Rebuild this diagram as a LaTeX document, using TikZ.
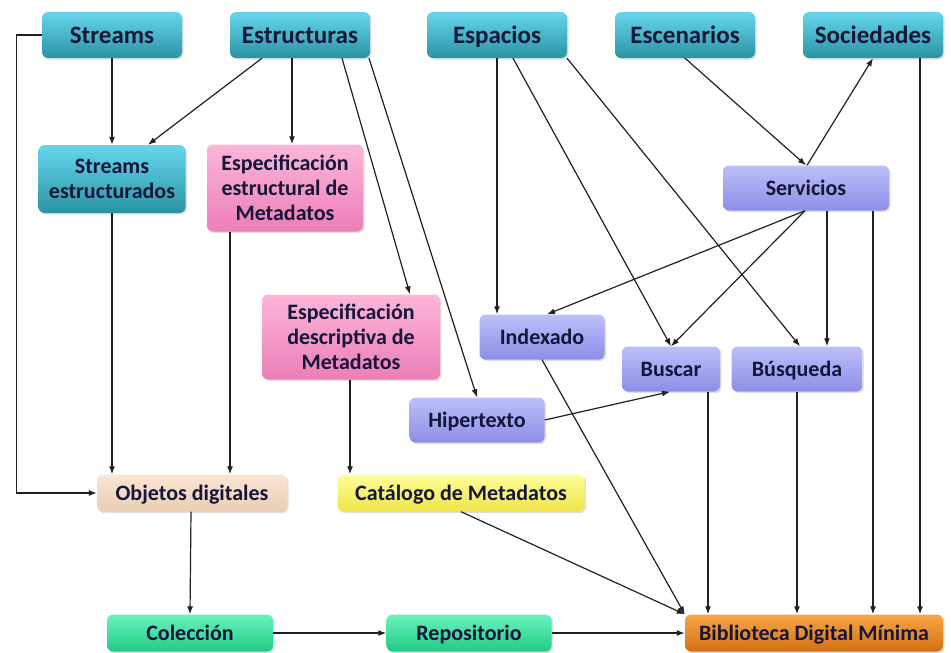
\documentclass[tikz,border=0pt]{standalone}
\usepackage{fontspec}
\setmainfont{Carlito}
\usetikzlibrary{arrows.meta,shadows}
\definecolor{txt}{HTML}{15163A}
\definecolor{tealA}{HTML}{66D6EE}\definecolor{tealB}{HTML}{36A8CC}\definecolor{tealC}{HTML}{2A93A3}
\definecolor{pinkA}{HTML}{FCB6D9}\definecolor{pinkB}{HTML}{F592C5}\definecolor{pinkC}{HTML}{EC7EB6}
\definecolor{lavA}{HTML}{BDBFFB}\definecolor{lavB}{HTML}{9EA0F3}\definecolor{lavC}{HTML}{8C8EE6}
\definecolor{peaA}{HTML}{FAE6D4}\definecolor{peaB}{HTML}{F3DAC5}\definecolor{peaC}{HTML}{EACDB4}
\definecolor{yelA}{HTML}{FFFF99}\definecolor{yelB}{HTML}{FCF86A}\definecolor{yelC}{HTML}{EEE44A}
\definecolor{grnA}{HTML}{6AF3BE}\definecolor{grnB}{HTML}{36E6A0}\definecolor{grnC}{HTML}{22C985}
\definecolor{orgA}{HTML}{F7A649}\definecolor{orgB}{HTML}{EB8620}\definecolor{orgC}{HTML}{D27010}
\definecolor{lin}{HTML}{202020}
\tikzset{
  box/.style={rectangle, rounded corners=6pt, align=center, inner sep=0pt, text=txt,
    font=\fontsize{22}{25}\selectfont\bfseries,
    drop shadow={opacity=0.25, shadow xshift=1.5pt, shadow yshift=-1.5pt}},
  one/.style={text height=19pt, text depth=5pt},
  bigbox/.style={box, font=\fontsize{25}{27}\selectfont\bfseries, text height=21pt, text depth=5pt,
    minimum width=140pt, minimum height=46pt},
  teal/.style={top color=tealA, middle color=tealB, bottom color=tealC},
  pink/.style={top color=pinkA, middle color=pinkB, bottom color=pinkC},
  lav/.style={top color=lavA, middle color=lavB, bottom color=lavC},
  pea/.style={top color=peaA, middle color=peaB, bottom color=peaC},
  yel/.style={top color=yelA, middle color=yelB, bottom color=yelC},
  grn/.style={top color=grnA, middle color=grnB, bottom color=grnC},
  org/.style={top color=orgA, middle color=orgB, bottom color=orgC},
  arr/.style={draw=lin, line width=1.2pt, -{Latex[length=8pt,width=6pt]}},
}
\begin{document}
\begin{tikzpicture}[x=1pt,y=-1pt]
\useasboundingbox (0,0) rectangle (951,653);
% top row
\node[bigbox,teal] (str) at (112,35) {Streams};
\node[bigbox,teal] (est) at (300,35) {Estructuras};
\node[bigbox,teal] (esp) at (497,35) {Espacios};
\node[bigbox,teal] (esc) at (685,35) {Escenarios};
\node[bigbox,teal] (soc) at (873,35) {Sociedades};
% second row
\node[box,teal,minimum width=147pt,minimum height=68pt] (stre) at (112,179) {Streams\\estructurados};
\node[box,pink,minimum width=156pt,minimum height=87pt] (eem) at (285,188) {Especificación\\estructural de\\Metadatos};
\node[box,one,lav,minimum width=166pt,minimum height=45pt] (ser) at (806,188) {Servicios};
% middle
\node[box,pink,minimum width=178pt,minimum height=85pt] (edm) at (351,337) {Especificación\\descriptiva de\\Metadatos};
\node[box,one,lav,minimum width=125pt,minimum height=45pt] (idx) at (542,337) {Indexado};
\node[box,one,lav,minimum width=98pt,minimum height=45pt] (bus) at (671,369) {Buscar};
\node[box,one,lav,minimum width=131pt,minimum height=45pt] (bsq) at (797,369) {Búsqueda};
\node[box,one,lav,minimum width=135pt,minimum height=45pt] (hip) at (477,420) {Hipertexto};
% lower
\node[box,one,pea,minimum width=190pt,minimum height=37pt] (obj) at (192,493) {Objetos digitales};
\node[box,one,yel,minimum width=247pt,minimum height=37pt] (cat) at (461,493) {Catálogo de Metadatos};
\node[box,one,grn,minimum width=166pt,minimum height=37pt] (col) at (190,633) {Colección};
\node[box,one,grn,minimum width=165pt,minimum height=37pt] (rep) at (469,633) {Repositorio};
\node[box,one,org,minimum width=258pt,minimum height=37pt] (bib) at (814,633) {Biblioteca Digital Mínima};
% connectors
\draw[arr] (str.west) -- ++(-25,0) |- (obj.west);
\draw[arr] (str.south) -- (stre.north);
\draw[arr] ([xshift=-38pt]est.south) -- ([xshift=36pt]stre.north);
\draw[arr] ([xshift=-8pt]est.south) -- ([xshift=7pt]eem.north);
\draw[arr] ([xshift=42pt]est.south) -- ([xshift=59pt]edm.north);
\draw[arr] ([xshift=69pt]est.south) -- (hip.north);
\draw[arr] (stre.south) -- ([xshift=-80pt]obj.north);
\draw[arr] ([xshift=-55pt]eem.south) -- ([xshift=38pt]obj.north);
\draw[arr] ([xshift=-1pt]edm.south) -- ([xshift=-111pt]cat.north);
\draw[arr] (esp.south) -- ([xshift=-45pt]idx.north);
\draw[arr] ([xshift=16pt]esp.south) -- (bus.north);
\draw[arr] ([xshift=70pt]esp.south) -- ([xshift=3pt]bsq.north);
\draw[arr] (esc.south) -- (ser.north);
\draw[arr] ([xshift=1pt]ser.north) -- (soc.south);
\draw[arr] ([xshift=-1pt]ser.south) -- ([xshift=5pt]idx.north);
\draw[arr] ([xshift=-1pt]ser.south) -- (bus.north);
\draw[arr] ([xshift=21pt]ser.south) -- ([xshift=30pt]bsq.north);
\draw[arr] ([xshift=67pt]ser.south) -- ([xshift=59pt]bib.north);
\draw[arr] ([xshift=47pt]soc.south) -- ([xshift=106pt]bib.north);
\draw[arr] (idx.south) -- (bib.north west);
\draw[arr] (cat.south) -- (bib.north west);
\draw[arr] ([xshift=37pt]bus.south) -- ([xshift=-106pt]bib.north);
\draw[arr] (bsq.south) -- ([xshift=-17pt]bib.north);
\draw[arr] (hip.east) -- ([xshift=-1pt]bus.south);
\draw[arr] ([xshift=-1pt]obj.south) -- (col.north);
\draw[arr] (col.east) -- (rep.west);
\draw[arr] (rep.east) -- (bib.west);
\end{tikzpicture}
\end{document}
